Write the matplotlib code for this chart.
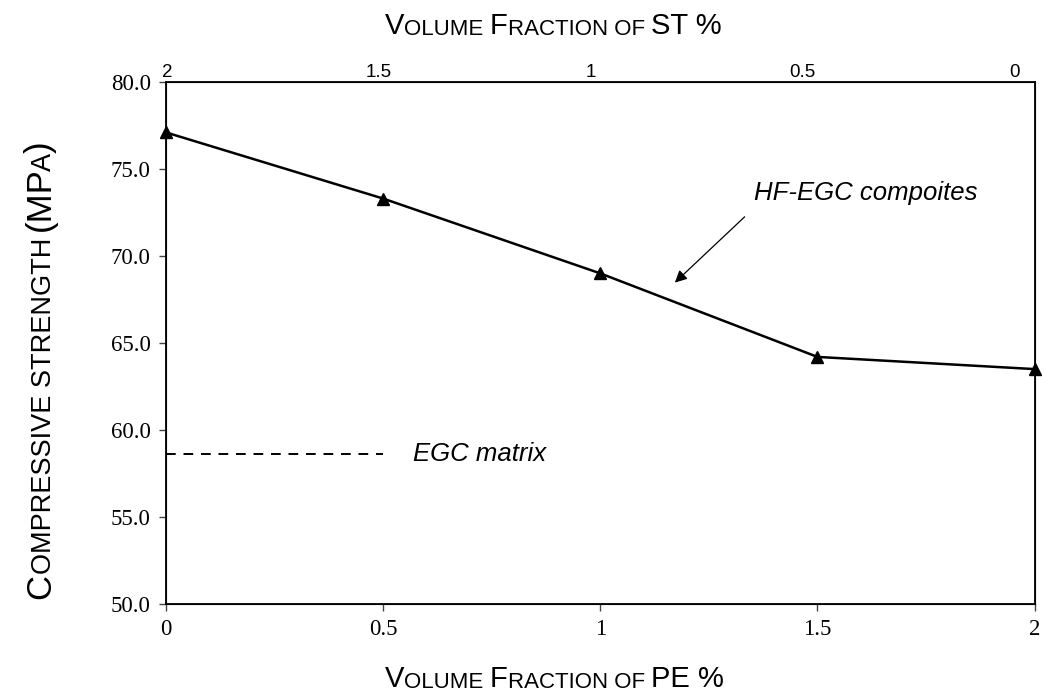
import matplotlib
matplotlib.use("Agg")
import matplotlib.pyplot as plt

# data
pe_frac = [0, 0.5, 1, 1.5, 2]
strength = [77.1, 73.3, 69.0, 64.2, 63.5]
matrix_x = [0, 0.5]
matrix_y = [58.6, 58.6]
st_ticks = [2, 1.5, 1, 0.5, 0]
st_labels = ['2', '1.5', '1', '0.5', '0']
y_ticks = [50, 55, 60, 65, 70, 75, 80]

SANS = 'Liberation Sans'
SERIF = 'Liberation Serif'

fig = plt.figure(figsize=(10.44, 6.97), dpi=100)
ax = fig.add_axes([0.159, 0.1334, 0.832, 0.749])

# main series
ax.plot(pe_frac, strength, color='black', linewidth=1.8,
        marker='^', markersize=9, clip_on=False, zorder=5)
# EGC matrix reference line
ax.plot(matrix_x, matrix_y, color='black', linewidth=1.4,
        linestyle=(0, (5, 4)), clip_on=False)

ax.set_xlim(0, 2)
ax.set_ylim(50, 80)
ax.set_xticks(pe_frac)
ax.set_xticklabels(['0', '0.5', '1', '1.5', '2'], fontfamily=SERIF, fontsize=16.5)
ax.set_yticks(y_ticks)
ax.set_yticklabels([f'{v:.1f}' for v in y_ticks], fontfamily=SERIF, fontsize=16.5)
ax.tick_params(axis='both', direction='out', length=5, width=1, pad=6, color='#444444')
for loc in ['left', 'right', 'top', 'bottom']:
    ax.spines[loc].set_linewidth(1.3)

# secondary axis on top, its labels sit a little off the bottom grid
ax2 = ax.twiny()
ax2.set_xlim(2.002, -0.047)
ax2.set_xticks(st_ticks)
ax2.set_xticklabels(st_labels, fontfamily=SANS, fontsize=13.5)
ax2.tick_params(axis='x', length=0, pad=1)

# annotations
ax.annotate('', xy=(1.167, 68.36), xytext=(1.337, 72.36),
            arrowprops=dict(arrowstyle='-|>', color='black', lw=0.9,
                            mutation_scale=18))
ax.text(1.355, 73.2, 'HF-EGC compoites', fontfamily=SANS, fontstyle='italic',
        fontsize=18.5, va='baseline')
ax.text(0.568, 58.6, 'EGC matrix', fontfamily=SANS, fontstyle='italic',
        fontsize=18.5, va='center')


def small_caps(pieces, x, y, big, small, rotation=0):
    # pieces: (text, big?, shift in points along the text) drawn one after another
    prev = None
    for s, is_big, shift in pieces:
        size = big if is_big else small
        if prev is None:
            prev = fig.text(x, y, s, fontfamily=SANS, fontsize=size,
                            rotation=rotation,
                            ha='left' if rotation == 0 else 'right',
                            va='bottom')
        elif rotation == 0:
            prev = ax.annotate(s, xy=(1, 0), xycoords=prev, ha='left', va='bottom',
                               xytext=(shift, 0), textcoords='offset points',
                               fontfamily=SANS, fontsize=size, annotation_clip=False)
        else:
            prev = ax.annotate(s, xy=(1, 1), xycoords=prev, ha='right', va='bottom',
                               xytext=(0, shift), textcoords='offset points',
                               fontfamily=SANS, fontsize=size, rotation=90,
                               annotation_clip=False)


small_caps([('V', True, 0), ('OLUME ', False, 0), ('F', True, 0),
            ('RACTION OF ', False, 0), ('PE %', True, 0)],
           385 / 1044, 0.006, 21, 16)
small_caps([('V', True, 0), ('OLUME ', False, 0), ('F', True, 0),
            ('RACTION OF ', False, 0), ('ST %', True, 0)],
           385 / 1044, 0.943, 21, 16)
small_caps([('C', True, 0), ('OMPRESSIVE STRENGTH ', False, 0), ('(MP', True, 0),
            ('A', False, -3), (')', True, 0)],
           57 / 1044, 0.14, 25, 19.5, rotation=90)

fig.savefig('out.png', dpi=100, facecolor='white')
